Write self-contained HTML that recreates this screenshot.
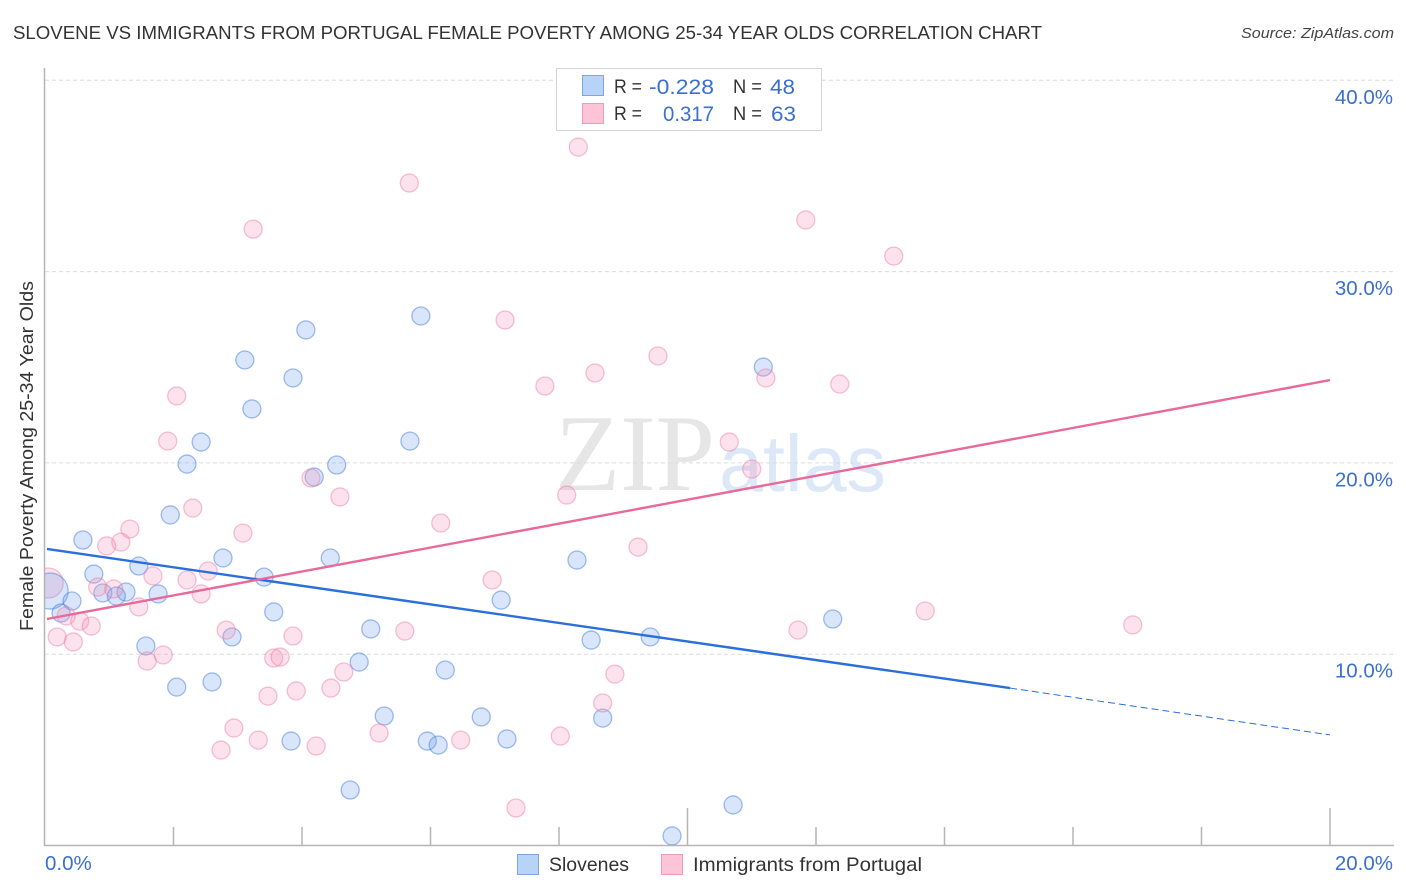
<!DOCTYPE html>
<html lang="en">
<head>
<meta charset="utf-8">
<title>Slovene vs Immigrants from Portugal Female Poverty Correlation Chart</title>
<style>
  html, body { margin: 0; padding: 0; background: #fff; }
  body { width: 1406px; height: 892px; overflow: hidden; }
  svg { display: block; font-family: "Liberation Sans", sans-serif; }
</style>
</head>
<body>
<svg id="chart" xmlns="http://www.w3.org/2000/svg" width="1406" height="892" viewBox="0 0 1406 892">
  <defs>
    <clipPath id="plot-clip"><rect x="45" y="60" width="1350" height="785"/></clipPath>
  </defs>
  <rect x="0" y="0" width="1406" height="892" fill="#ffffff"/>
  <text x="13" y="39" font-size="18.5" fill="#333333" textLength="1029" lengthAdjust="spacingAndGlyphs">SLOVENE VS IMMIGRANTS FROM PORTUGAL FEMALE POVERTY AMONG 25-34 YEAR OLDS CORRELATION CHART</text>
  <text x="1241" y="38" font-size="15" font-style="italic" fill="#444444" textLength="153" lengthAdjust="spacingAndGlyphs">Source: ZipAtlas.com</text>
  <g>
    <text x="555" y="490" font-family="'Liberation Serif', serif" font-size="109" fill="#e6e6e6" textLength="160" lengthAdjust="spacingAndGlyphs">ZIP</text>
    <text x="719" y="491" font-size="80" fill="#dce7f7" textLength="167" lengthAdjust="spacingAndGlyphs">atlas</text>
  </g>
  <g id="grid"></g>
  <g id="axes">
    <line x1="44.5" y1="68" x2="44.5" y2="846" stroke="#b5b5b5" stroke-width="1.5"/>
    <line x1="44" y1="845.5" x2="1394" y2="845.5" stroke="#b5b5b5" stroke-width="1.5"/>
  </g>
  <g id="ticks"></g>
  <g id="y-labels"></g>
  <g id="x-labels"></g>
  <text transform="translate(33 456) rotate(-90)" text-anchor="middle" font-size="18.5" fill="#333333" textLength="350" lengthAdjust="spacingAndGlyphs">Female Poverty Among 25-34 Year Olds</text>
  <g id="points" clip-path="url(#plot-clip)"></g>
  <g id="trends"></g>
  <g>
    <rect x="556.5" y="68.5" width="265" height="62" fill="#ffffff" stroke="#d4d4d4" stroke-width="1"/>
    <rect x="582.5" y="75.5" width="21" height="20" fill="#b8d3f8" stroke="#7ba6e4"/>
    <text x="614" y="93" font-size="19" fill="#333333" textLength="28" lengthAdjust="spacingAndGlyphs">R =</text>
    <text x="649" y="94" font-size="21.5" fill="#3a6fd0" textLength="65" lengthAdjust="spacingAndGlyphs">-0.228</text>
    <text x="733" y="93" font-size="19" fill="#333333" textLength="29" lengthAdjust="spacingAndGlyphs">N =</text>
    <text x="770" y="94" font-size="21.5" fill="#3a6fd0" textLength="25" lengthAdjust="spacingAndGlyphs">48</text>
    <rect x="582.5" y="103.5" width="21" height="20" fill="#fcc4d6" stroke="#f09ab8"/>
    <text x="614" y="120" font-size="19" fill="#333333" textLength="28" lengthAdjust="spacingAndGlyphs">R =</text>
    <text x="663" y="121" font-size="21.5" fill="#3a6fd0" textLength="51" lengthAdjust="spacingAndGlyphs">0.317</text>
    <text x="733" y="120" font-size="19" fill="#333333" textLength="29" lengthAdjust="spacingAndGlyphs">N =</text>
    <text x="771" y="121" font-size="21.5" fill="#3a6fd0" textLength="25" lengthAdjust="spacingAndGlyphs">63</text>
  </g>
  <g>
    <rect x="517.5" y="854.5" width="21" height="20" fill="#b8d3f8" stroke="#7ba6e4"/>
    <text x="549" y="871" font-size="19.5" fill="#333333" textLength="80" lengthAdjust="spacingAndGlyphs">Slovenes</text>
    <rect x="661.5" y="854.5" width="21" height="20" fill="#fcc4d6" stroke="#f09ab8"/>
    <text x="693" y="871" font-size="19.5" fill="#333333" textLength="229" lengthAdjust="spacingAndGlyphs">Immigrants from Portugal</text>
  </g>
</svg>
<script>
const yTickValues = [10, 20, 30, 40];
const yTickLabels = ["10.0%", "20.0%", "30.0%", "40.0%"];
const xMinorTickValues = [2, 4, 6, 8, 12, 14, 16, 18];
const xMajorTickValues = [10, 20];
const xEdgeLabels = ["0.0%", "20.0%"];

const sloveneX = [5.85, 4.06, 3.11, 3.86, 11.18, 3.22, 5.68, 2.43, 2.21, 4.54, 4.19, 1.95, 0.59, 2.77, 4.44, 8.28, 1.46, 0.76, 3.41, 1.26, 1.76, 0.90, 1.11, 0.42, 0.25, 3.56, 7.10, 12.26, 5.07, 2.91, 8.50, 9.42, 1.57, 4.89, 6.23, 2.60, 2.05, 5.28, 6.79, 8.68, 3.83, 5.95, 7.19, 6.12, 4.75, 10.71, 9.76];
const sloveneY = [27.68, 26.95, 25.38, 24.44, 25.01, 22.82, 21.14, 21.09, 19.94, 19.89, 19.26, 17.28, 15.97, 15.03, 15.03, 14.92, 14.61, 14.19, 14.03, 13.25, 13.15, 13.20, 13.04, 12.78, 12.15, 12.21, 12.83, 11.84, 11.32, 10.90, 10.74, 10.90, 10.43, 9.59, 9.17, 8.55, 8.28, 6.77, 6.72, 6.66, 5.46, 5.46, 5.57, 5.25, 2.90, 2.12, 0.50];
const sloveneAggregateX = [0.08];
const sloveneAggregateY = [13.30];

const portugalX = [8.30, 5.67, 3.24, 11.84, 13.21, 7.16, 9.54, 8.56, 11.22, 7.78, 12.37, 2.05, 10.65, 1.91, 11.00, 4.14, 4.59, 8.12, 2.30, 6.16, 1.32, 3.08, 1.18, 0.96, 9.23, 2.54, 1.68, 2.21, 6.96, 0.82, 1.07, 2.43, 1.46, 0.33, 0.54, 0.72, 13.70, 16.93, 2.82, 5.60, 11.72, 3.86, 0.19, 0.44, 1.84, 1.59, 3.56, 3.66, 4.65, 8.87, 4.45, 3.91, 3.47, 8.68, 2.94, 5.20, 8.02, 6.47, 3.32, 4.22, 2.74, 7.33];
const portugalY = [36.51, 34.63, 32.22, 32.70, 30.81, 27.47, 25.59, 24.70, 24.44, 24.02, 24.12, 23.50, 21.09, 21.14, 19.68, 19.21, 18.22, 18.32, 17.64, 16.86, 16.54, 16.33, 15.86, 15.66, 15.60, 14.35, 14.09, 13.88, 13.88, 13.51, 13.41, 13.15, 12.47, 12.00, 11.73, 11.47, 12.26, 11.53, 11.26, 11.21, 11.26, 10.95, 10.90, 10.64, 9.96, 9.64, 9.80, 9.85, 9.07, 8.96, 8.23, 8.08, 7.81, 7.45, 6.14, 5.88, 5.72, 5.51, 5.51, 5.20, 4.99, 1.96];
const portugalAggregateX = [0.05];
const portugalAggregateY = [13.72];

const sloveneTrendX = [0.03, 15.02];
const sloveneTrendY = [15.50, 8.23];
const sloveneForecastX = [15.02, 20];
const sloveneForecastY = [8.23, 5.78];
const portugalTrendX = [0.03, 20];
const portugalTrendY = [11.84, 24.33];

const SVG_NS = "http://www.w3.org/2000/svg";
const xScale = v => 45 + v * 64.25;
const yScale = v => 845.5 - v * 19.13;

function make(tag, parentId, attrs) {
  const el = document.createElementNS(SVG_NS, tag);
  for (const k in attrs) el.setAttribute(k, attrs[k]);
  document.getElementById(parentId).appendChild(el);
  return el;
}

yTickValues.forEach(function (v, i) {
  const grid = make("line", "grid", { x1: 45, x2: 1393, y1: yScale(v), y2: yScale(v), stroke: "#dcdcdc", "stroke-width": 1, "stroke-dasharray": "4 3" });
  
  
  const label = make("text", "y-labels", { x: 1393, y: yScale(v) + 23.5, "text-anchor": "end", "font-size": 20.5, fill: "#3a6fd0" });
  
  
  label.textContent = yTickLabels[i];
});

xMinorTickValues.forEach(function (v) {
  const tick = make("line", "ticks", { x1: xScale(v), x2: xScale(v), y1: 827, y2: 845, stroke: "#b5b5b5", "stroke-width": 1.5 });
  
  
});
xMajorTickValues.forEach(function (v) {
  const tick = make("line", "ticks", { x1: xScale(v), x2: xScale(v), y1: 808, y2: 845, stroke: "#b5b5b5", "stroke-width": 1.5 });
  
  
});

const leftLabel = make("text", "x-labels", { x: 45, y: 870, "font-size": 20.5, fill: "#3a6fd0" });


leftLabel.textContent = xEdgeLabels[0];
const rightLabel = make("text", "x-labels", { x: 1393, y: 870, "text-anchor": "end", "font-size": 20.5, fill: "#3a6fd0" });


rightLabel.textContent = xEdgeLabels[1];

const blueStyle = { fill: "rgba(110,160,235,0.27)", stroke: "rgba(70,125,220,0.5)", "stroke-width": 1.3 };
const pinkStyle = { fill: "rgba(245,150,185,0.28)", stroke: "rgba(235,120,160,0.45)", "stroke-width": 1.3 };

function drawSeries(xs, ys, r, style, name) {
  xs.forEach(function (x, i) {
    const dot = make("circle", "points", Object.assign({ cx: xScale(x), cy: yScale(ys[i]), r: r }, style));
    
    
  });
}
drawSeries(portugalAggregateX, portugalAggregateY, 15, pinkStyle, 'portugal-aggregate-point');
drawSeries(sloveneAggregateX, sloveneAggregateY, 18, blueStyle, 'slovene-aggregate-point');
drawSeries(sloveneX, sloveneY, 9, blueStyle, 'slovene-point');
drawSeries(portugalX, portugalY, 9, pinkStyle, 'portugal-point');

function drawLine(xs, ys, attrs, name) {
  const line = make("line", "trends", Object.assign({ x1: xScale(xs[0]), y1: yScale(ys[0]), x2: xScale(xs[1]), y2: yScale(ys[1]) }, attrs));
  
  
}
drawLine(sloveneTrendX, sloveneTrendY, { stroke: "#2a6fdb", "stroke-width": 2.4 }, 'slovene-trend-line');
drawLine(sloveneForecastX, sloveneForecastY, { stroke: "#2a6fdb", "stroke-width": 1, "stroke-dasharray": "7 4" }, 'slovene-trend-forecast');
drawLine(portugalTrendX, portugalTrendY, { stroke: "#e8699a", "stroke-width": 2.4 }, 'portugal-trend-line');
</script>
</body>
</html>
